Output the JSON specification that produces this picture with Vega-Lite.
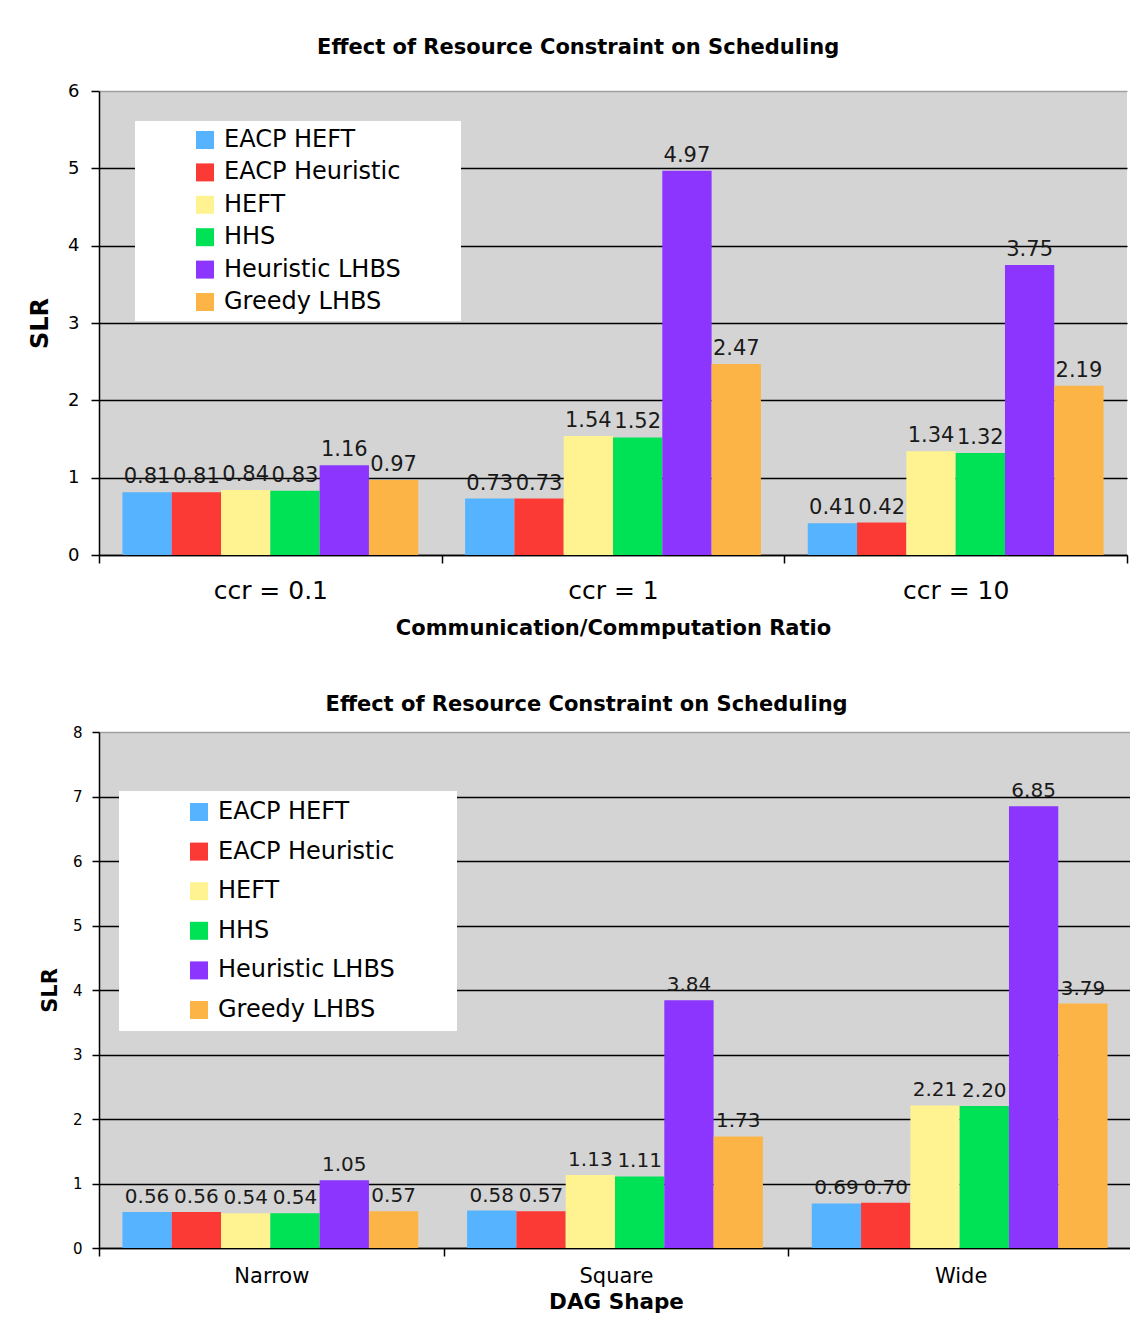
{
  "$schema": "https://vega.github.io/schema/vega-lite/v6.json",
  "padding": {"left": 28, "top": 37, "right": 0, "bottom": 0},
  "background": "white",
  "config": {
    "font": "DejaVu Sans",
    "view": {"fill": "#d4d4d4", "stroke": null},
    "axis": {"labelColor": "black", "titleColor": "black", "domainColor": "black", "tickColor": "black", "domainWidth": 1.5, "tickWidth": 1.5}
  },
  "datasets": {
    "ccr": [
      {"group": "ccr = 0.1", "algo": "EACP HEFT", "slr": 0.81},
      {"group": "ccr = 0.1", "algo": "EACP Heuristic", "slr": 0.81},
      {"group": "ccr = 0.1", "algo": "HEFT", "slr": 0.84},
      {"group": "ccr = 0.1", "algo": "HHS", "slr": 0.83},
      {"group": "ccr = 0.1", "algo": "Heuristic LHBS", "slr": 1.16},
      {"group": "ccr = 0.1", "algo": "Greedy LHBS", "slr": 0.97},
      {"group": "ccr = 1", "algo": "EACP HEFT", "slr": 0.73},
      {"group": "ccr = 1", "algo": "EACP Heuristic", "slr": 0.73},
      {"group": "ccr = 1", "algo": "HEFT", "slr": 1.54},
      {"group": "ccr = 1", "algo": "HHS", "slr": 1.52},
      {"group": "ccr = 1", "algo": "Heuristic LHBS", "slr": 4.97},
      {"group": "ccr = 1", "algo": "Greedy LHBS", "slr": 2.47},
      {"group": "ccr = 10", "algo": "EACP HEFT", "slr": 0.41},
      {"group": "ccr = 10", "algo": "EACP Heuristic", "slr": 0.42},
      {"group": "ccr = 10", "algo": "HEFT", "slr": 1.34},
      {"group": "ccr = 10", "algo": "HHS", "slr": 1.32},
      {"group": "ccr = 10", "algo": "Heuristic LHBS", "slr": 3.75},
      {"group": "ccr = 10", "algo": "Greedy LHBS", "slr": 2.19}
    ],
    "dag": [
      {"group": "Narrow", "algo": "EACP HEFT", "slr": 0.56},
      {"group": "Narrow", "algo": "EACP Heuristic", "slr": 0.56},
      {"group": "Narrow", "algo": "HEFT", "slr": 0.54},
      {"group": "Narrow", "algo": "HHS", "slr": 0.54},
      {"group": "Narrow", "algo": "Heuristic LHBS", "slr": 1.05},
      {"group": "Narrow", "algo": "Greedy LHBS", "slr": 0.57},
      {"group": "Square", "algo": "EACP HEFT", "slr": 0.58},
      {"group": "Square", "algo": "EACP Heuristic", "slr": 0.57},
      {"group": "Square", "algo": "HEFT", "slr": 1.13},
      {"group": "Square", "algo": "HHS", "slr": 1.11},
      {"group": "Square", "algo": "Heuristic LHBS", "slr": 3.84},
      {"group": "Square", "algo": "Greedy LHBS", "slr": 1.73},
      {"group": "Wide", "algo": "EACP HEFT", "slr": 0.69},
      {"group": "Wide", "algo": "EACP Heuristic", "slr": 0.70},
      {"group": "Wide", "algo": "HEFT", "slr": 2.21},
      {"group": "Wide", "algo": "HHS", "slr": 2.20},
      {"group": "Wide", "algo": "Heuristic LHBS", "slr": 6.85},
      {"group": "Wide", "algo": "Greedy LHBS", "slr": 3.79}
    ]
  },
  "resolve": {"scale": {"color": "independent"}, "legend": {"color": "independent"}},
  "align": "none",
  "spacing": 56,
  "vconcat": [
    {
      "width": 1028,
      "height": 464,
      "title": {"text": "Effect of Resource Constraint on Scheduling", "fontSize": 21, "fontWeight": "bold", "color": "black", "frame": "bounds", "anchor": "middle", "offset": 24},
      "data": {"name": "ccr"},
      "encoding": {
        "x": {
          "field": "group", "type": "nominal", "sort": ["ccr = 0.1", "ccr = 1", "ccr = 10"],
          "scale": {"paddingInner": 0, "paddingOuter": 0},
          "axis": {"title": "Communication/Commputation Ratio", "titleFontSize": 21, "titleFontWeight": "bold", "titlePadding": 14, "labelFontSize": 25, "labelPadding": 15, "labelAngle": 0, "tickBand": "extent", "tickSize": 8, "grid": false}
        },
        "xOffset": {
          "field": "algo", "type": "nominal",
          "sort": ["EACP HEFT", "EACP Heuristic", "HEFT", "HHS", "Heuristic LHBS", "Greedy LHBS"],
          "scale": {"paddingInner": 0, "paddingOuter": 0.475}
        },
        "y": {
          "field": "slr", "type": "quantitative",
          "scale": {"domain": [0, 6], "nice": false},
          "axis": {"title": "SLR", "titleFontSize": 24, "titleFontWeight": "bold", "titlePadding": 15, "labelFontSize": 18, "labelPadding": 12, "tickSize": 8, "values": [0, 1, 2, 3, 4, 5, 6], "gridColor": {"condition": {"test": "datum.value === 6", "value": "#a0a0a0"}, "value": "black"}, "gridWidth": 1.5}
        }
      },
      "layer": [
        {
          "mark": {"type": "bar"},
          "encoding": {
            "color": {
              "field": "algo", "type": "nominal",
              "scale": {"domain": ["EACP HEFT", "EACP Heuristic", "HEFT", "HHS", "Heuristic LHBS", "Greedy LHBS"], "range": ["#55b3ff", "#fc3a35", "#fff291", "#00e256", "#8b35ff", "#fdb446"]},
              "legend": {"title": null, "orient": "none", "legendX": 36, "legendY": 30, "fillColor": "white", "padding": 7, "symbolType": "square", "symbolSize": 324, "symbolStrokeWidth": 0, "symbolOpacity": 1, "symbolOffset": 51, "labelOffset": 7, "labelFontSize": 24, "labelColor": "black", "rowPadding": 8.4, "labelLimit": 600, "labelExpr": "datum.label + '\u2800\u2800\u2800'"}
            }
          }
        },
        {
          "mark": {"type": "text", "baseline": "bottom", "dy": -5, "fontSize": 21, "color": "#1a1a1a"},
          "encoding": {"text": {"field": "slr", "type": "quantitative", "format": ".2f"}}
        }
      ]
    },
    {
      "width": 1034,
      "height": 516,
      "title": {"text": "Effect of Resource Constraint on Scheduling", "fontSize": 21, "fontWeight": "bold", "color": "black", "frame": "bounds", "anchor": "middle", "offset": 10},
      "data": {"name": "dag"},
      "encoding": {
        "x": {
          "field": "group", "type": "nominal", "sort": ["Narrow", "Square", "Wide"],
          "scale": {"paddingInner": 0, "paddingOuter": 0},
          "axis": {"title": "DAG Shape", "titleFontSize": 21.5, "titleFontWeight": "bold", "titlePadding": 5, "labelFontSize": 21, "labelPadding": 9, "labelAngle": 0, "tickBand": "extent", "tickSize": 8, "grid": false}
        },
        "xOffset": {
          "field": "algo", "type": "nominal",
          "sort": ["EACP HEFT", "EACP Heuristic", "HEFT", "HHS", "Heuristic LHBS", "Greedy LHBS"],
          "scale": {"paddingInner": 0, "paddingOuter": 0.475}
        },
        "y": {
          "field": "slr", "type": "quantitative",
          "scale": {"domain": [0, 8], "nice": false},
          "axis": {"title": "SLR", "titleFontSize": 21, "titleFontWeight": "bold", "titlePadding": 12, "labelFontSize": 15, "labelPadding": 10, "tickSize": 7, "values": [0, 1, 2, 3, 4, 5, 6, 7, 8], "gridColor": {"condition": {"test": "datum.value === 8", "value": "#a0a0a0"}, "value": "black"}, "gridWidth": 1.5}
        }
      },
      "layer": [
        {
          "mark": {"type": "bar"},
          "encoding": {
            "color": {
              "field": "algo", "type": "nominal",
              "scale": {"domain": ["EACP HEFT", "EACP Heuristic", "HEFT", "HHS", "Heuristic LHBS", "Greedy LHBS"], "range": ["#55b3ff", "#fc3a35", "#fff291", "#00e256", "#8b35ff", "#fdb446"]},
              "legend": {"title": null, "orient": "none", "legendX": 20, "legendY": 59, "fillColor": "white", "padding": 9, "symbolType": "square", "symbolSize": 324, "symbolStrokeWidth": 0, "symbolOpacity": 1, "symbolOffset": 59, "labelOffset": 7, "labelFontSize": 24, "labelColor": "black", "rowPadding": 15.6, "labelLimit": 600, "labelExpr": "datum.label + '\u2800\u2800\u2800'"}
            }
          }
        },
        {
          "mark": {"type": "text", "baseline": "bottom", "dy": -5, "fontSize": 20, "color": "#1a1a1a"},
          "encoding": {"text": {"field": "slr", "type": "quantitative", "format": ".2f"}}
        }
      ]
    }
  ]
}
